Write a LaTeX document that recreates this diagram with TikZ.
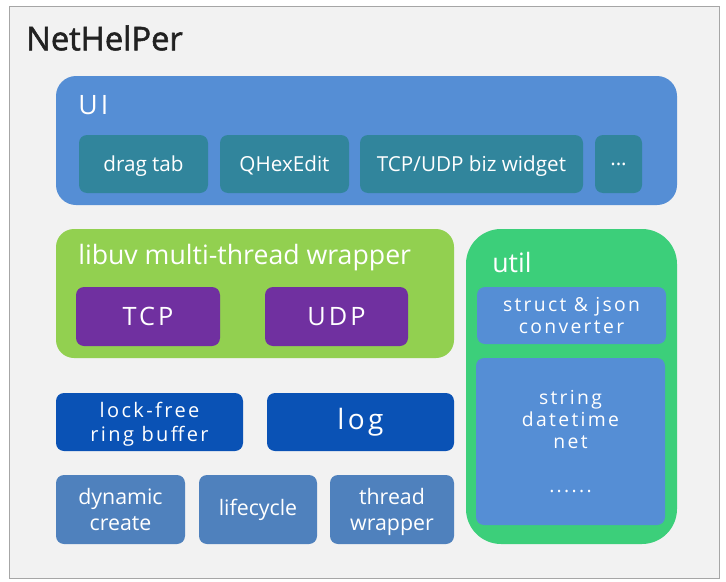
\documentclass[tikz,border=0pt]{standalone}
\usepackage{fontspec}
\setmainfont{Open Sans}
\newfontfamily\spacedfont[LetterSpace=12]{Open Sans}
\newfontfamily\titlefont[FakeBold=1.6]{Open Sans}
\newdimen\px \px=0.75pt

\definecolor{FrameGray}{HTML}{F2F2F2}
\definecolor{FrameLine}{HTML}{A6A6A6}
\definecolor{UiBlue}{HTML}{558ED5}
\definecolor{UiTeal}{HTML}{31859C}
\definecolor{UvGreen}{HTML}{92D050}
\definecolor{UvPurple}{HTML}{7030A0}
\definecolor{UtilGreen}{HTML}{3CCF7A}
\definecolor{CoreBlue}{HTML}{0A52B5}
\definecolor{BaseBlue}{HTML}{4F81BD}

\begin{document}
\begin{tikzpicture}[x=0.75pt,y=-0.75pt]
  \tikzset{BoxStyle/.style 2 args = {
    shape           = rectangle,
    text            = white,
    align           = center,
    inner sep       = 0pt,
    outer sep       = 0pt,
    minimum width   = #1\px,
    minimum height  = #2\px,
    rounded corners = 8\px
    }
  }
  \tikzset{LabelStyle/.style = {
    anchor    = west,
    inner sep = 0pt,
    text      = white,
    font      = \fontsize{20}{24}\selectfont
    }
  }
  \tikzset{ItemFont/.style = {font = \fontsize{15.5}{19.5}\selectfont, text depth = 0pt}}

  \useasboundingbox (0,0) rectangle (726,582);

	% frame and title
	\node[BoxStyle={709.5}{571.5}, rounded corners=0pt, fill=FrameGray, draw=FrameLine, line width=1\px](frame) at (364.25, 292.25) {};
	\node[anchor=west, inner sep=0pt, text=black!87, font=\titlefont\fontsize{24.5}{30}\selectfont](title) at (26, 38) {NetHelPer};

	% UI layer
	\node[BoxStyle={621}{129}, rounded corners=20\px, fill=UiBlue](ui) at (366.5, 140.5) {};
	\node[LabelStyle, font=\spacedfont\fontsize{20}{24}\selectfont](uilabel) at (78, 105) {UI};
	\node[BoxStyle={129}{58}, ItemFont, fill=UiTeal](dragtab) at (143.5, 164) {drag tab};
	\node[BoxStyle={129}{58}, ItemFont, fill=UiTeal](qhexedit) at (284.5, 164) {QHexEdit};
	\node[BoxStyle={223}{58}, ItemFont, fill=UiTeal](bizwidget) at (471.5, 164) {TCP/UDP biz widget};
	\node[BoxStyle={47}{58}, ItemFont, fill=UiTeal](uimore) at (618.5, 164) {...};

	% libuv layer
	\node[BoxStyle={398}{129}, rounded corners=18\px, fill=UvGreen](libuv) at (255, 293.5) {};
	\node[LabelStyle](libuvlabel) at (78, 258) {libuv multi-thread wrapper};
	\node[BoxStyle={144}{59}, fill=UvPurple, font=\spacedfont\fontsize{19}{23}\selectfont](tcp) at (148, 316.5) {TCP};
	\node[BoxStyle={143}{59}, fill=UvPurple, font=\spacedfont\fontsize{19}{23}\selectfont](udp) at (336.5, 316.5) {UDP};

	% util
	\node[BoxStyle={211}{315}, rounded corners=35\px, fill=UtilGreen](util) at (571.5, 386.5) {};
	\node[LabelStyle](utillabel) at (492, 262) {util};
	\node[BoxStyle={189}{57}, fill=UiBlue, font=\spacedfont\fontsize{14.5}{16.5}\selectfont](converter) at (571.5, 315.5) {struct \& json\\converter};
	\node[BoxStyle={189}{167}, fill=UiBlue, font=\spacedfont\fontsize{14.5}{16.5}\selectfont](utilmisc) at (570.5, 441.5) {string\\datetime\\net\\ \\......};

	% core
	\node[BoxStyle={187}{58}, fill=CoreBlue, text depth=0pt, font=\spacedfont\fontsize{15}{18}\selectfont](ringbuf) at (149.5, 422) {lock-free\\ring buffer};
	\node[BoxStyle={187}{58}, fill=CoreBlue, font=\spacedfont\fontsize{21}{25}\selectfont](log) at (360.5, 422) {log};

	% base
	\node[BoxStyle={129}{69}, fill=BaseBlue, font=\fontsize{16}{19.5}\selectfont](dyncreate) at (120.5, 509.5) {dynamic\\create};
	\node[BoxStyle={118}{69}, fill=BaseBlue, font=\fontsize{16}{19.5}\selectfont](lifecycle) at (258, 509.5) {lifecycle};
	\node[BoxStyle={124}{69}, fill=BaseBlue, text depth=0pt, font=\fontsize{16}{19.5}\selectfont](threadwrap) at (392, 509.5) {thread\\wrapper};

\end{tikzpicture}
\end{document}
